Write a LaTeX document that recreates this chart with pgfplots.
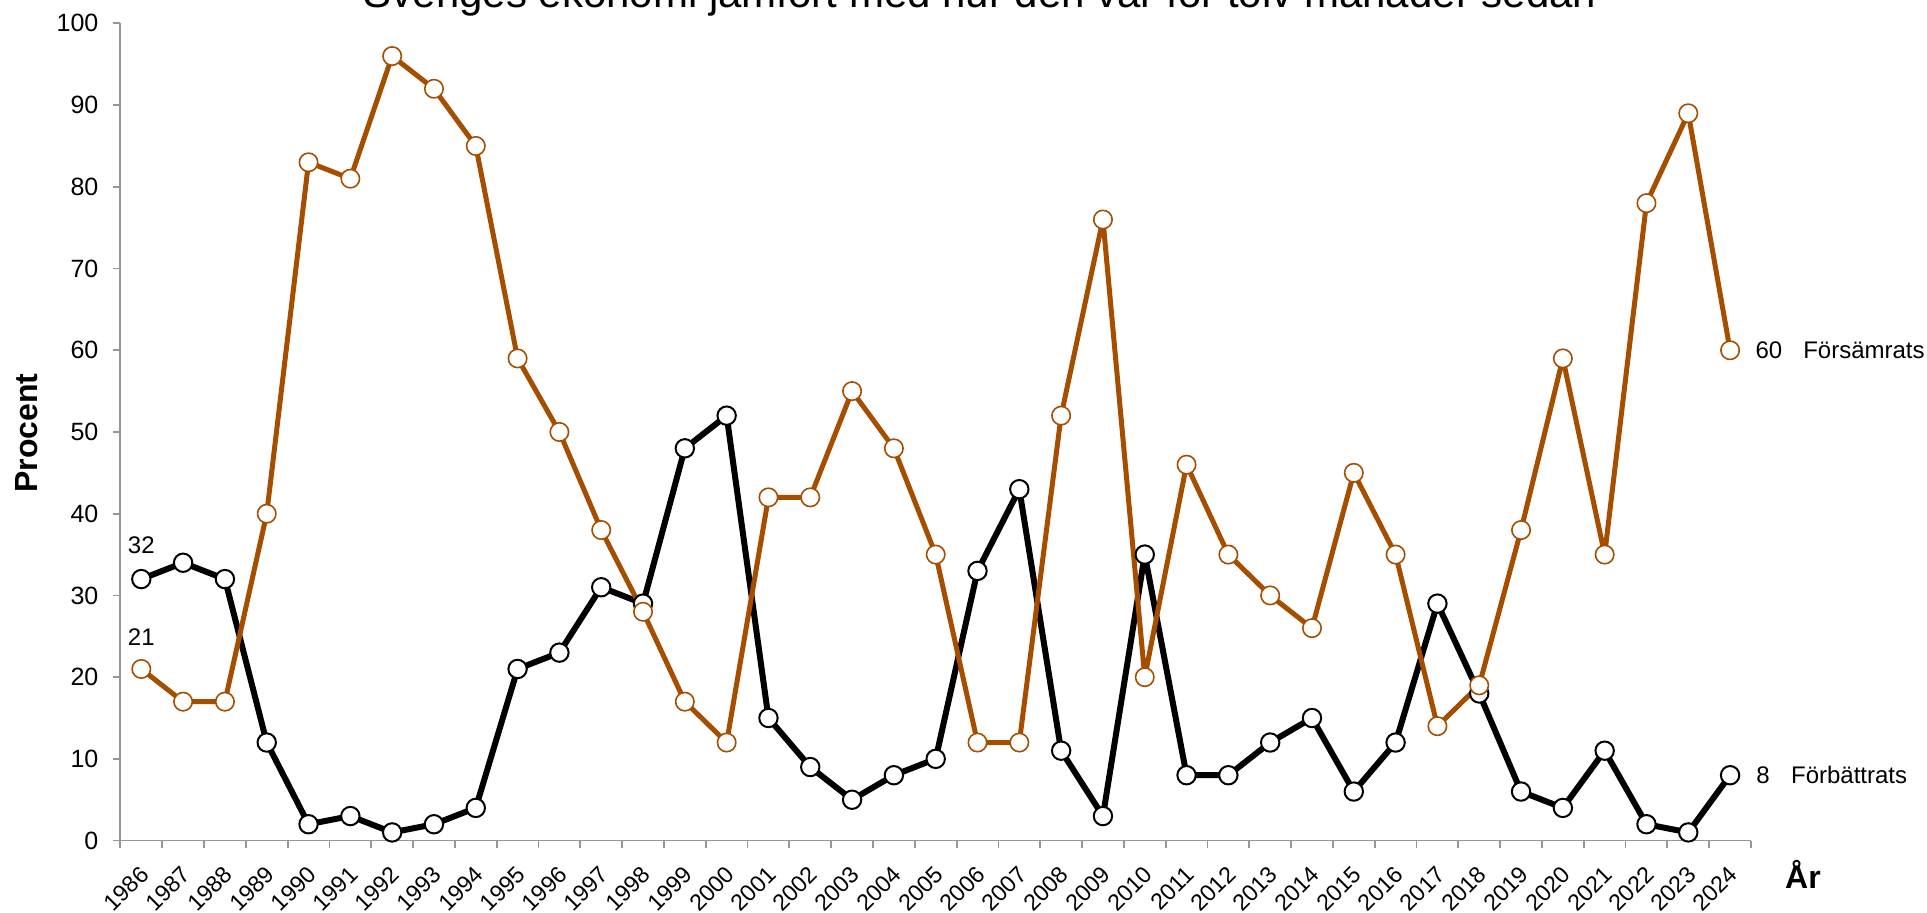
\documentclass[border=0pt]{standalone}
\usepackage{pgfplots}
\pgfplotsset{compat=1.18}
\usepackage{fontspec}
\setmainfont{Liberation Sans}
\definecolor{forange}{RGB}{166,78,0}
\definecolor{axgray}{RGB}{150,150,150}
\begin{document}
\begin{tikzpicture}
\begin{axis}[
  name=ax, anchor=south west, at={(0,0)},
  scale only axis, width=815.3pt, height=408.6pt,
  xmin=-0.5, xmax=38.5, ymin=0, ymax=100,
  axis x line*=bottom, axis y line*=left,
  axis line style={draw=axgray, line width=0.9pt},
  clip=false,
  /pgf/number format/assume math mode=true,
  xtick={0,...,38},
  xticklabels={1986,1987,1988,1989,1990,1991,1992,1993,1994,1995,1996,1997,1998,1999,2000,2001,2002,2003,2004,2005,2006,2007,2008,2009,2010,2011,2012,2013,2014,2015,2016,2017,2018,2019,2020,2021,2022,2023,2024},
  major x tick style={draw=none},
  minor xtick={-0.5,0.5,...,38.5},
  ytick={0,10,...,100},
  tick align=outside,
  major tick length=3.8pt, minor tick length=3.8pt,
  minor x tick style={draw=axgray, line width=0.9pt},
  y tick style={draw=axgray, line width=0.9pt},
  yticklabel style={font=\fontsize{12.5}{14}\selectfont, anchor=east, inner sep=0pt, xshift=-7pt},
  xticklabel style={font=\fontsize{11.6}{14}\selectfont, xshift=-1.3pt, yshift=-8pt, rotate=45, anchor=north east, inner sep=0pt},
]
\addplot[black, line width=3pt, line join=round, mark=*, mark size=4.6pt,
  mark options={fill=white, draw=black, line width=1pt}] coordinates {
(0,32)(1,34)(2,32)(3,12)(4,2)(5,3)(6,1)(7,2)(8,4)(9,21)(10,23)(11,31)(12,29)(13,48)(14,52)(15,15)(16,9)(17,5)(18,8)(19,10)(20,33)(21,43)(22,11)(23,3)(24,35)(25,8)(26,8)(27,12)(28,15)(29,6)(30,12)(31,29)(32,18)(33,6)(34,4)(35,11)(36,2)(37,1)(38,8)
};
\addplot[forange, line width=2.5pt, line join=round, mark=*, mark size=4.6pt,
  mark options={fill=white, draw=forange, line width=0.8pt}] coordinates {
(0,21)(1,17)(2,17)(3,40)(4,83)(5,81)(6,96)(7,92)(8,85)(9,59)(10,50)(11,38)(12,28)(13,17)(14,12)(15,42)(16,42)(17,55)(18,48)(19,35)(20,12)(21,12)(22,52)(23,76)(24,20)(25,46)(26,35)(27,30)(28,26)(29,45)(30,35)(31,14)(32,19)(33,38)(34,59)(35,35)(36,78)(37,89)(38,60)
};
\node[font=\fontsize{12}{14}\selectfont, yshift=17pt] at (axis cs:0,32) {32};
\node[font=\fontsize{12}{14}\selectfont, yshift=16pt] at (axis cs:0,21) {21};
\node[font=\fontsize{12}{14}\selectfont, anchor=base west, inner sep=0pt, yshift=-4.3pt] at (axis cs:38.60,60) {60};
\node[font=\fontsize{12}{14}\selectfont, anchor=base west, inner sep=0pt, yshift=-4.3pt] at (axis cs:39.74,60) {Försämrats};
\node[font=\fontsize{12}{14}\selectfont, anchor=base west, inner sep=0pt, yshift=-4.3pt] at (axis cs:38.62,8) {8};
\node[font=\fontsize{12}{14}\selectfont, anchor=base west, inner sep=0pt, yshift=-4.3pt] at (axis cs:39.45,8) {Förbättrats};
\end{axis}
\node[font=\bfseries\fontsize{16}{18}\selectfont, rotate=90] at (-46.7pt,203.8pt) {Procent};
\node[font=\bfseries\fontsize{16}{18}\selectfont] at (841.3pt,-16.7pt) {År};
\node[font=\fontsize{21}{24}\selectfont, anchor=base] at (429.8pt,416.5pt) {Sveriges ekonomi jämfört med hur den var för tolv månader sedan};
\pgfresetboundingbox
\useasboundingbox (-60.2pt,-36.2pt) rectangle (903.3pt,420.3pt);
\end{tikzpicture}
\end{document}
